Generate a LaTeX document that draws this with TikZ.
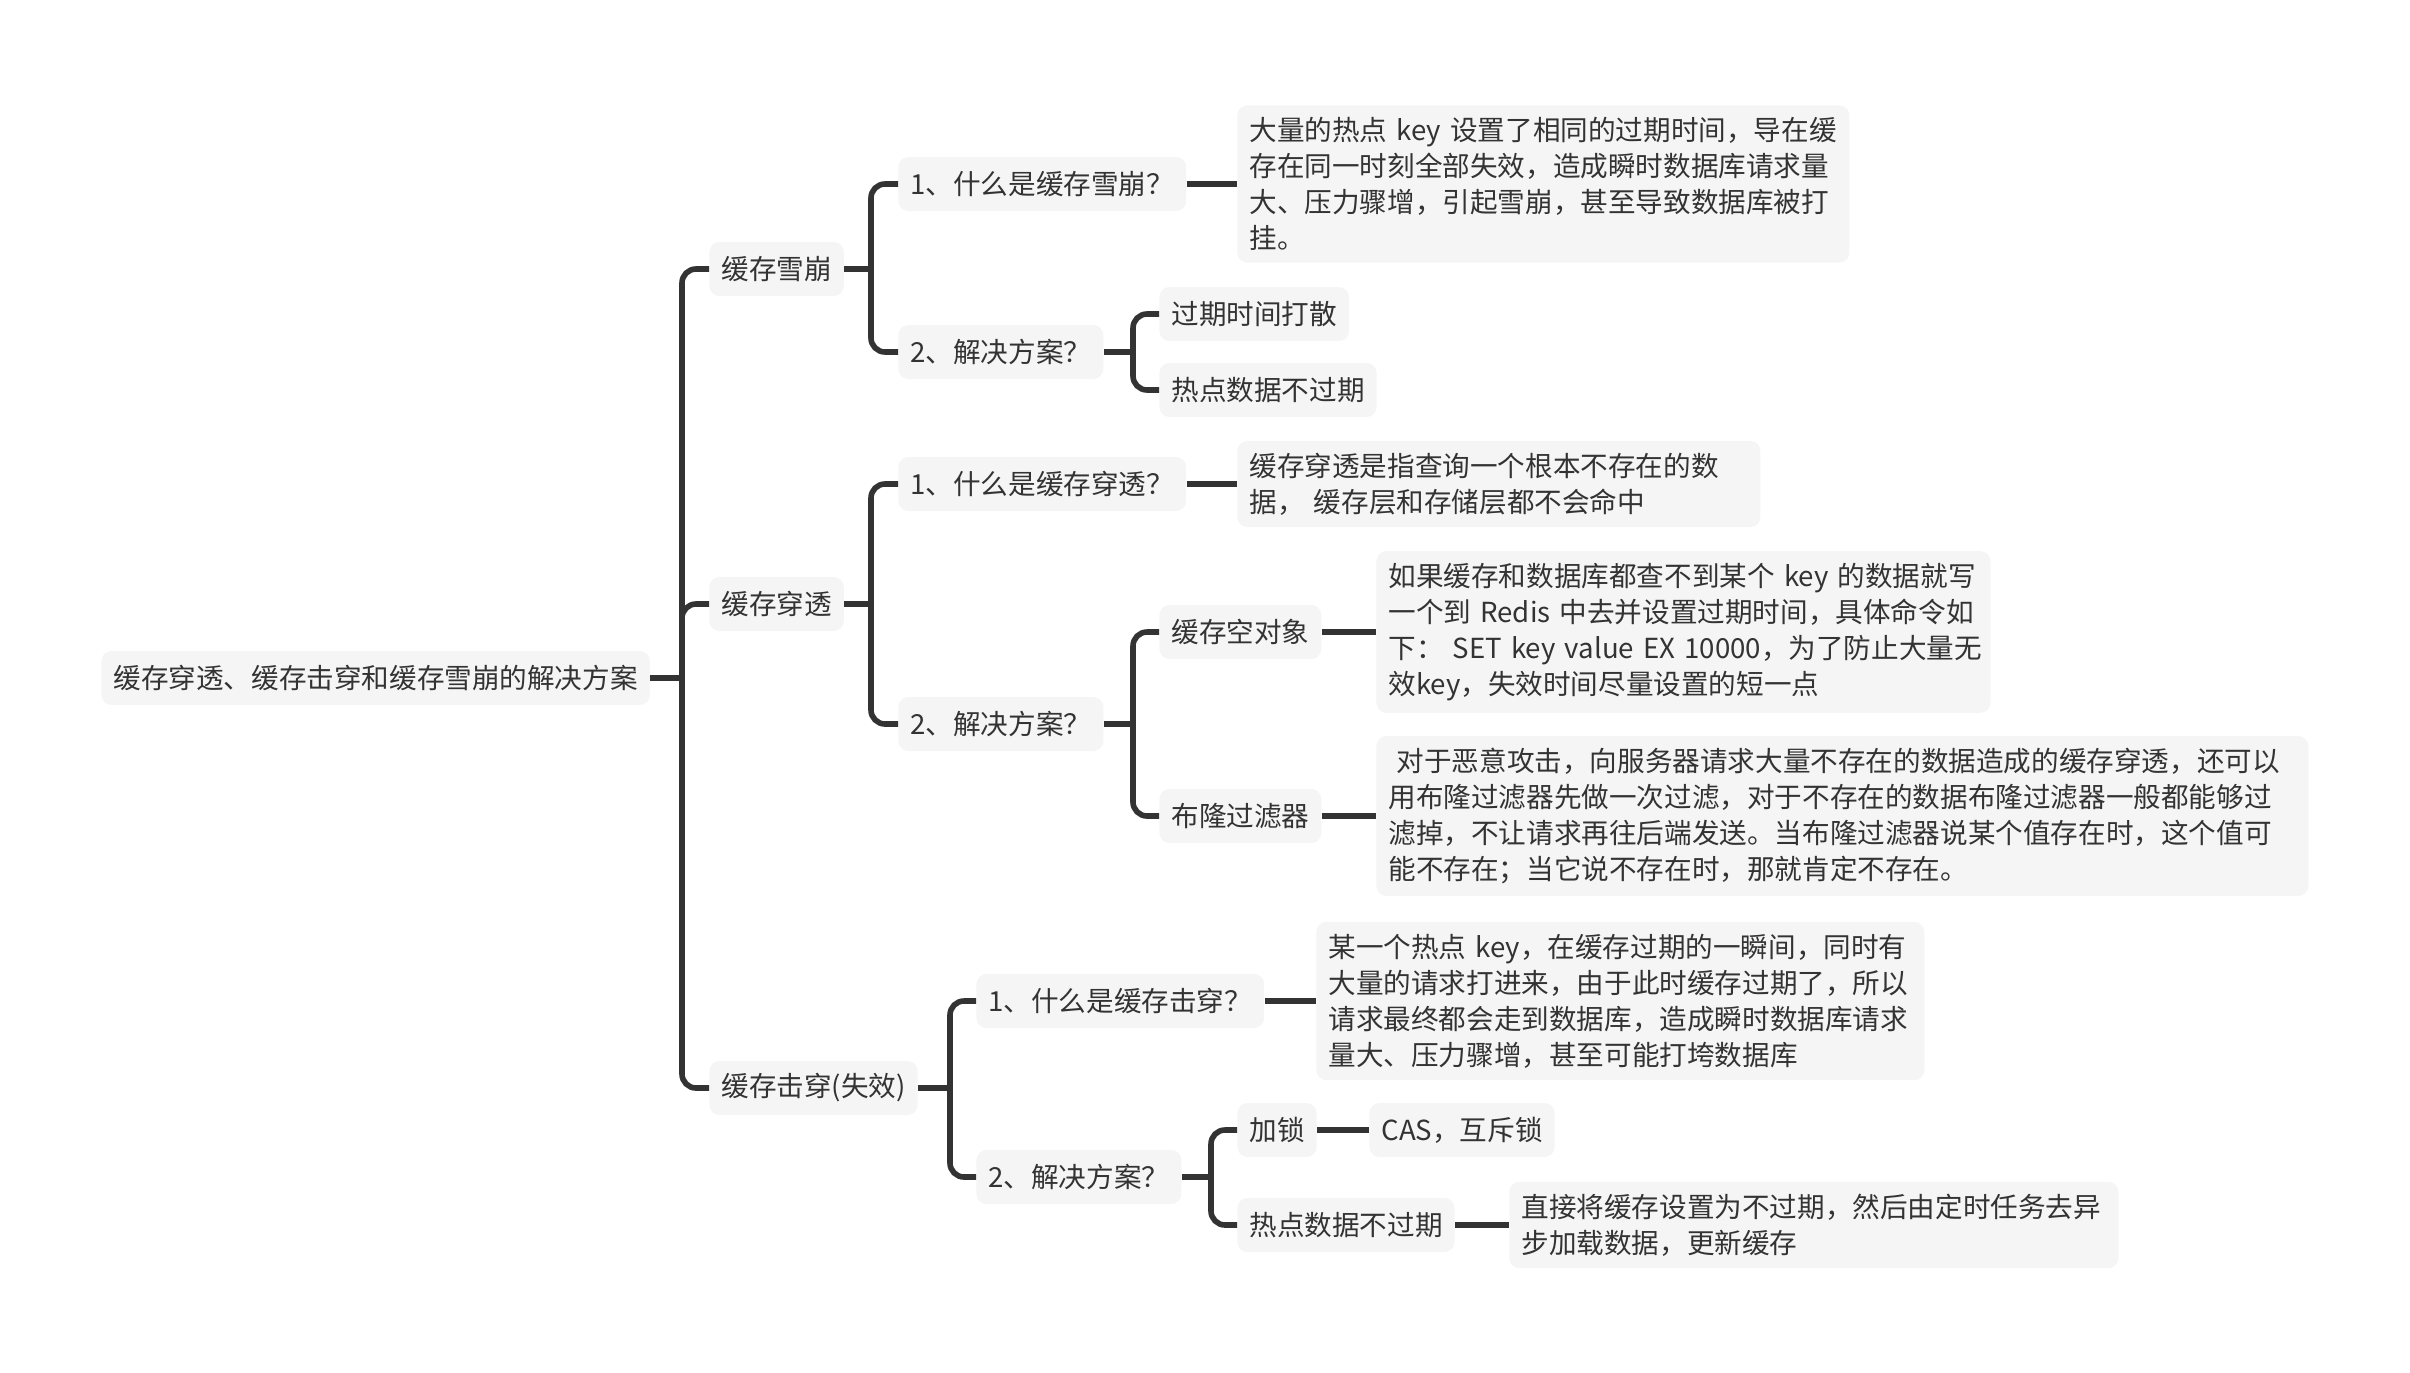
\documentclass[tikz,border=0pt]{standalone}
\usepackage{fontspec}
\setmainfont{Noto Sans CJK SC}
\definecolor{boxfill}{HTML}{F5F5F5}
\definecolor{ink}{HTML}{333333}
\begin{document}
\begin{tikzpicture}[x=0.5pt,y=-0.5pt,
  box/.style={fill=boxfill, rounded corners=5pt, inner xsep=6pt, inner ysep=6pt,
    minimum height=27pt, anchor=west, text=ink, align=left,
    font=\fontsize{13.8pt}{18pt}\selectfont},
  conn/.style={draw=ink, line width=2.8pt},
  branch/.style={conn, rounded corners=7pt}]
\useasboundingbox (0,0) rectangle (2410,1372);

% root
\node[box] (root) at (101,678) {缓存穿透、缓存击穿和缓存雪崩的解决方案};

% level 1
\node[box] (xb) at (709,269) {缓存雪崩};
\node[box] (ct) at (709,604) {缓存穿透};
\node[box] (jc) at (709,1088) {缓存击穿(失效)};

% 缓存雪崩
\node[box] (xbq1) at (898,184) {1、什么是缓存雪崩？};
\node[box] (xbq2) at (898,352) {2、解决方案？};
\node[box, text width=294pt] (xbt1) at (1237,184) {大量的热点~key~设置了相同的过期时间，导在缓\\存在同一时刻全部失效，造成瞬时数据库请求量\\大、压力骤增，引起雪崩，甚至导致数据库被打\\挂。};
\node[box] (xbs1) at (1159,314) {过期时间打散};
\node[box] (xbs2) at (1159,390) {热点数据不过期};

% 缓存穿透
\node[box] (ctq1) at (898,484) {1、什么是缓存穿透？};
\node[box] (ctq2) at (898,724) {2、解决方案？};
\node[box, text width=249.5pt] (ctt1) at (1237,484) {缓存穿透是指查询一个根本不存在的数\\据，~缓存层和存储层都不会命中};
\node[box] (cts1) at (1159,632) {缓存空对象};
\node[box] (cts2) at (1159,816) {布隆过滤器};
\node[box, text width=295pt] (ctt2) at (1376,632) {如果缓存和数据库都查不到某个~key~的数据就写\\一个到~Redis~中去并设置过期时间，具体命令如\\下：~SET~key~value~EX~10000，为了防止大量无\\效key，失效时间尽量设置的短一点};
\node[box, text width=454pt] (ctt3) at (1376,816) {\hspace{0.3em}对于恶意攻击，向服务器请求大量不存在的数据造成的缓存穿透，还可以\\用布隆过滤器先做一次过滤，对于不存在的数据布隆过滤器一般都能够过\\滤掉，不让请求再往后端发送。当布隆过滤器说某个值存在时，这个值可\\能不存在；当它说不存在时，那就肯定不存在。};

% 缓存击穿
\node[box] (jcq1) at (976,1001) {1、什么是缓存击穿？};
\node[box] (jcq2) at (976,1177) {2、解决方案？};
\node[box, text width=292pt] (jct1) at (1316,1001) {某一个热点~key，在缓存过期的一瞬间，同时有\\大量的请求打进来，由于此时缓存过期了，所以\\请求最终都会走到数据库，造成瞬时数据库请求\\量大、压力骤增，甚至可能打垮数据库};
\node[box] (jcs1) at (1237,1130) {加锁};
\node[box] (jcs2) at (1237,1225) {热点数据不过期};
\node[box] (jcl1) at (1369,1130) {CAS，互斥锁};
\node[box, text width=292.5pt] (jcl2) at (1509,1225) {直接将缓存设置为不过期，然后由定时任务去异\\步加载数据，更新缓存};

% bracket coordinates
\coordinate (b0) at (682,678);
\coordinate (b1) at (871,269);
\coordinate (b2) at (1133,352);
\coordinate (b3) at (871,604);
\coordinate (b4) at (1133,724);
\coordinate (b5) at (950,1088);
\coordinate (b6) at (1211,1177);

% connectors
\draw[conn] (root.east) -- (b0);
\draw[branch] (b0) |- (xb.west);
\draw[branch] (b0) |- (ct.west);
\draw[branch] (b0) |- (jc.west);

\draw[conn] (xb.east) -- (b1);
\draw[branch] (b1) |- (xbq1.west);
\draw[branch] (b1) |- (xbq2.west);
\draw[conn] (xbq1.east) -- (xbt1.west);
\draw[conn] (xbq2.east) -- (b2);
\draw[branch] (b2) |- (xbs1.west);
\draw[branch] (b2) |- (xbs2.west);

\draw[conn] (ct.east) -- (b3);
\draw[branch] (b3) |- (ctq1.west);
\draw[branch] (b3) |- (ctq2.west);
\draw[conn] (ctq1.east) -- (ctt1.west);
\draw[conn] (ctq2.east) -- (b4);
\draw[branch] (b4) |- (cts1.west);
\draw[branch] (b4) |- (cts2.west);
\draw[conn] (cts1.east) -- (ctt2.west);
\draw[conn] (cts2.east) -- (ctt3.west);

\draw[conn] (jc.east) -- (b5);
\draw[branch] (b5) |- (jcq1.west);
\draw[branch] (b5) |- (jcq2.west);
\draw[conn] (jcq1.east) -- (jct1.west);
\draw[conn] (jcq2.east) -- (b6);
\draw[branch] (b6) |- (jcs1.west);
\draw[branch] (b6) |- (jcs2.west);
\draw[conn] (jcs1.east) -- (jcl1.west);
\draw[conn] (jcs2.east) -- (jcl2.west);
\end{tikzpicture}
\end{document}
